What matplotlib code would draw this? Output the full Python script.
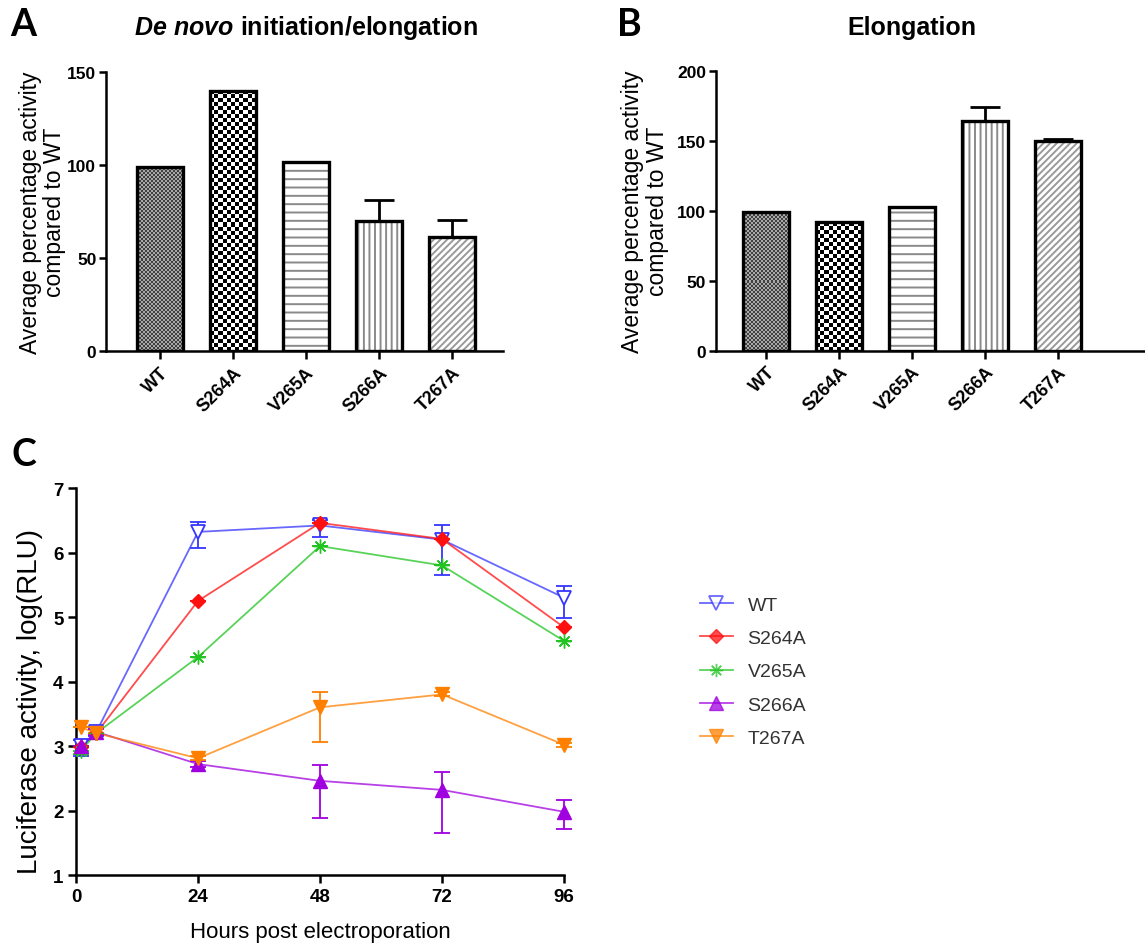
import numpy as np
import matplotlib
matplotlib.use("Agg")
import matplotlib.pyplot as plt
from matplotlib.colors import ListedColormap
from matplotlib.transforms import blended_transform_factory

plt.rcParams["font.family"] = ["Liberation Sans", "DejaVu Sans"]
plt.rcParams["mathtext.fontset"] = "custom"
plt.rcParams["mathtext.it"] = "Liberation Sans:italic:bold"
plt.rcParams["mathtext.rm"] = "Liberation Sans:bold"
plt.rcParams["hatch.linewidth"] = 1.4

# ---- data ----
mutants = ["WT", "S264A", "V265A", "S266A", "T267A"]

# panel A: de novo initiation / elongation (% of WT)
denovo_mean = [99, 140, 101.5, 70, 61.5]
denovo_err = [0, 0, 0, 11, 9]

# panel B: elongation (% of WT)
elong_mean = [99, 92, 103, 164, 150]
elong_err = [0, 0, 0, 10, 1]

# panel C: luciferase time course, log(RLU)
hours = [1, 4, 24, 48, 72, 96]
luc_mean = {
    "WT": [3.0, 3.22, 6.32, 6.42, 6.2, 5.3],
    "S264A": [2.98, 3.2, 5.25, 6.46, 6.21, 4.84],
    "V265A": [2.93, 3.2, 4.38, 6.1, 5.8, 4.63],
    "S266A": [3.0, 3.22, 2.72, 2.46, 2.32, 1.98],
    "T267A": [3.29, 3.2, 2.81, 3.6, 3.8, 3.02],
}
luc_err_lo = {
    "WT": [0.15, 0.06, 0.25, 0.18, 0.55, 0.32],
    "S264A": [0, 0, 0, 0, 0, 0],
    "V265A": [0.05, 0, 0, 0, 0, 0],
    "S266A": [0, 0.05, 0.05, 0.57, 0.67, 0.26],
    "T267A": [0, 0, 0.03, 0.53, 0.03, 0.03],
}
luc_err_hi = {
    "WT": [0.1, 0.06, 0.15, 0.08, 0.23, 0.18],
    "S264A": [0, 0, 0, 0, 0, 0],
    "V265A": [0, 0, 0, 0, 0, 0],
    "S266A": [0, 0.05, 0.05, 0.25, 0.27, 0.18],
    "T267A": [0, 0, 0.03, 0.23, 0.03, 0.03],
}

# ---- styles ----
# hatch density in matplotlib is 6 lines per inch per character
bar_fill = {
    "WT": ("checker", 2, "#404040", "#a8a8a8"),
    "S264A": ("checker", 4, "#000000", "#ffffff"),
    "V265A": ("hatch", "--", "#8a8a8a"),
    "S266A": ("hatch", "|||", "#8a8a8a"),
    "T267A": ("hatch", "/////", "#9a9a9a"),
}
line_style = {
    "WT": dict(color="#3535ff", marker="v", mfc="white", ms=10, mew=1.3),
    "S264A": dict(color="#ff1010", marker="D", ms=7.5),
    "V265A": dict(color="#22c422", marker=(8, 2, 0), ms=10, mew=1.0),
    "S266A": dict(color="#a000e0", marker="^", ms=10.5),
    "T267A": dict(color="#ff8000", marker="v", ms=10.5),
}

fig = plt.figure(figsize=(11.45, 9.45), dpi=100)


def bar_panel(ax, means, errs, xlim, ylim, yticks, label_x):
    ax.set_xlim(*xlim)
    ax.set_ylim(*ylim)
    x = np.arange(len(mutants))
    w = 0.63
    # pixels per data unit, for sizing the checker textures
    ppx = ax.bbox.width / (xlim[1] - xlim[0])
    ppy = ax.bbox.height / (ylim[1] - ylim[0])
    for i, name in enumerate(mutants):
        style = bar_fill[name]
        x0 = x[i] - w / 2
        if style[0] == "checker":
            cell = style[1]
            nx = max(1, int(round(w * ppx / cell)))
            ny = max(1, int(round(means[i] * ppy / cell)))
            img = np.add.outer(np.arange(ny), np.arange(nx)) % 2
            ax.imshow(img, extent=(x0, x0 + w, 0, means[i]), aspect="auto",
                      cmap=ListedColormap([style[2], style[3]]),
                      interpolation="nearest", zorder=1)
        else:
            ax.bar(x[i], means[i], w, color="white", edgecolor=style[2],
                   hatch=style[1], linewidth=0, zorder=1)
        ax.bar(x[i], means[i], w, facecolor="none", edgecolor="black",
               linewidth=2.4, zorder=2)
        if errs[i] > 0:
            ax.errorbar(x[i], means[i], yerr=[[0], [errs[i]]], fmt="none",
                        ecolor="black", elinewidth=2, capsize=11, capthick=2,
                        zorder=3)
    ax.set_xlim(*xlim)
    ax.set_ylim(*ylim)
    ax.set_xticks(x)
    ax.set_xticklabels(mutants, rotation=45, ha="right", va="top",
                       rotation_mode="anchor", fontweight="bold", fontsize=13)
    ax.set_yticks(yticks)
    ax.set_yticklabels([str(t) for t in yticks], fontweight="bold", fontsize=12.5)
    for s in ["top", "right"]:
        ax.spines[s].set_visible(False)
    for s in ["left", "bottom"]:
        ax.spines[s].set_linewidth(1.8)
    ax.tick_params(axis="y", direction="out", length=5, width=1.8, pad=2)
    ax.tick_params(axis="x", direction="out", length=6, width=1.8, pad=3)
    ax.set_ylabel("Average percentage activity\ncompared to WT", fontsize=16.5,
                  linespacing=1.1)
    ax.yaxis.set_label_coords(label_x, 0.5)


# panel A
axA = fig.add_axes([0.0926, 0.6275, 0.3467, 0.2953])
bar_panel(axA, denovo_mean, denovo_err, (-0.74, 4.7), (0, 150),
          [0, 50, 100, 150], -0.1)
tA = blended_transform_factory(axA.transData, axA.transAxes)
axA.text(2, 1.135, r"$\mathit{De\ novo}$ initiation/elongation", transform=tA,
         ha="center", va="baseline", fontsize=18, fontweight="bold")

# panel B
axB = fig.add_axes([0.6253, 0.6278, 0.3747, 0.2963])
bar_panel(axB, elong_mean, elong_err, (-0.69, 5.2), (0, 200),
          [0, 50, 100, 150, 200], -0.11)
tB = blended_transform_factory(axB.transData, axB.transAxes)
axB.text(2, 1.13, "Elongation", transform=tB, ha="center", va="baseline",
         fontsize=18, fontweight="bold")

# panel C
axC = fig.add_axes([0.0664, 0.0730, 0.4262, 0.4095])
for name in mutants:
    st = line_style[name]
    axC.plot(hours, luc_mean[name], color=st["color"], lw=1.3, alpha=0.75,
             clip_on=False, zorder=2)
    axC.errorbar(hours, luc_mean[name],
                 yerr=[luc_err_lo[name], luc_err_hi[name]], fmt="none",
                 ecolor=st["color"], elinewidth=1.3, capsize=5.5, capthick=1.3,
                 clip_on=False, zorder=3)
    axC.plot(hours, luc_mean[name], linestyle="none", marker=st["marker"],
             ms=st["ms"], mfc=st.get("mfc", st["color"]), mec=st["color"],
             mew=st.get("mew", 1.0), clip_on=False, zorder=4)
axC.set_xlim(0, 96)
axC.set_ylim(1, 7)
axC.set_xticks([0, 24, 48, 72, 96])
axC.set_yticks(range(1, 8))
for lab in axC.get_xticklabels() + axC.get_yticklabels():
    lab.set_fontweight("bold")
    lab.set_fontsize(13.5)
for s in ["top", "right"]:
    axC.spines[s].set_visible(False)
for s in ["left", "bottom"]:
    axC.spines[s].set_linewidth(1.8)
axC.tick_params(axis="both", direction="out", length=6, width=1.8, pad=3)
axC.set_xlabel("Hours post electroporation", fontsize=16, labelpad=12)
axC.set_ylabel("Luciferase activity, log(RLU)", fontsize=20)
axC.yaxis.set_label_coords(-0.068, 0.45)

handles = []
for name in mutants:
    st = line_style[name]
    h, = axC.plot([], [], color=st["color"], lw=1.3, alpha=0.75,
                  marker=st["marker"], ms=st["ms"] * 0.95,
                  mfc=st.get("mfc", st["color"]), mec=st["color"],
                  mew=st.get("mew", 1.0))
    handles.append(h)
fig.legend(handles, mutants, loc="upper left",
           bbox_to_anchor=(0.596, 1 - 580 / 945), frameon=False, fontsize=14,
           labelspacing=0.8, handlelength=1.7, handletextpad=0.75,
           labelcolor="#333333")

# panel letters
for letter, xf, yf in [("A", 0.009, 1 - 36 / 945), ("B", 0.539, 1 - 36 / 945),
                       ("C", 0.010, 1 - 466 / 945)]:
    fig.text(xf, yf, letter, fontsize=27, fontweight="bold",
             family=["Lato", "DejaVu Sans"], va="baseline", ha="left")

fig.savefig("out.png", dpi=100)
